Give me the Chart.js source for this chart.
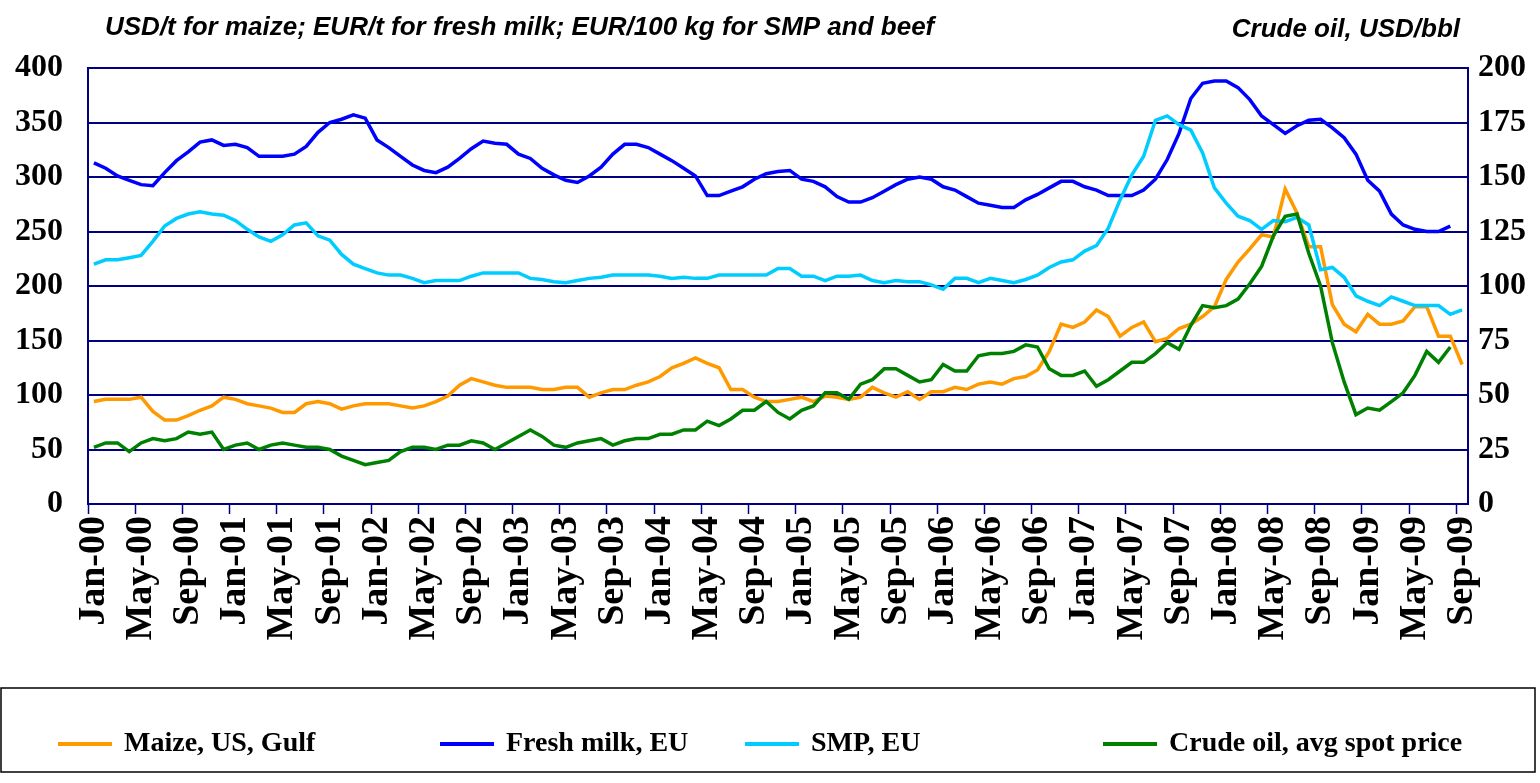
<!DOCTYPE html>
<html>
<head>
<meta charset="utf-8">
<script src="https://cdn.jsdelivr.net/npm/chart.js@4.4.1/dist/chart.umd.min.js"></script>
<style>
  html, body { margin: 0; padding: 0; background: #fff; }
  #wrap { width: 1540px; height: 783px; }
</style>
</head>
<body>
<div id="wrap"><canvas id="chart" width="1540" height="783"></canvas></div>
<script>
// months Jan-00 .. Sep-09
const MONTHS = ['Jan', 'Feb', 'Mar', 'Apr', 'May', 'Jun', 'Jul', 'Aug', 'Sep', 'Oct', 'Nov', 'Dec'];
const YEARS = ['00', '01', '02', '03', '04', '05', '06', '07', '08', '09'];
const categories = [];
YEARS.forEach(y => MONTHS.forEach(m => categories.push(m + '-' + y)));
categories.length = 117;

// USD/t
const maize = [
  94, 96, 96, 96, 98, 85, 77, 77, 81, 86, 90, 98, 96, 92, 90, 88, 84, 84, 92, 94,
  92, 87, 90, 92, 92, 92, 90, 88, 90, 94, 99, 109, 115, 112, 109, 107, 107, 107, 105,
  105, 107, 107, 98, 102, 105, 105, 109, 112, 117, 125, 129, 134, 129, 125, 105, 105, 98, 94, 94,
  96, 98, 94, 99, 98, 96, 98, 107, 102, 98, 103, 96, 103, 103, 107, 105, 110, 112, 110,
  115, 117, 123, 140, 165, 162, 167, 178, 172, 154, 162, 167, 149, 152, 161, 165, 172, 181, 206, 222,
  234, 247, 245, 289, 267, 236, 236, 183, 165, 158, 174, 165, 165, 168, 181, 181, 154, 154, 128
];
// EUR/t
const milk = [
  313, 308, 301, 297, 293, 292, 304, 315, 323, 332, 334, 329, 330, 327, 319, 319, 319, 321, 328, 341,
  350, 353, 357, 354, 334, 327, 319, 311, 306, 304, 309, 317, 326, 333, 331, 330, 321, 317, 308,
  302, 297, 295, 301, 309, 321, 330, 330, 327, 321, 315, 308, 301, 283, 283, 287, 291, 298, 303, 305,
  306, 298, 296, 291, 282, 277, 277, 281, 287, 293, 298, 300, 298, 291, 288, 282, 276, 274, 272,
  272, 279, 284, 290, 296, 296, 291, 288, 283, 283, 283, 288, 298, 316, 340, 372, 386, 388, 388, 382,
  371, 356, 348, 340, 347, 352, 353, 345, 336, 321, 297, 287, 266, 256, 252, 250, 250, 255
];
// EUR/100 kg
const smp = [
  220, 224, 224, 226, 228, 241, 255, 262, 266, 268, 266, 265, 260, 252, 245, 241, 247, 256, 258, 246,
  242, 229, 220, 216, 212, 210, 210, 207, 203, 205, 205, 205, 209, 212, 212, 212, 212, 207, 206,
  204, 203, 205, 207, 208, 210, 210, 210, 210, 209, 207, 208, 207, 207, 210, 210, 210, 210, 210, 216,
  216, 209, 209, 205, 209, 209, 210, 205, 203, 205, 204, 204, 201, 197, 207, 207, 203, 207, 205,
  203, 206, 210, 217, 222, 224, 232, 237, 253, 279, 302, 319, 352, 356, 348, 343, 322, 290, 276, 264,
  260, 252, 260, 259, 263, 256, 215, 217, 208, 191, 186, 182, 190, 186, 182, 182, 182, 174, 178
];
// USD/bbl, right axis
const crudeOil = [
  26, 28, 28, 24, 28, 30, 29, 30, 33, 32, 33, 25, 27, 28, 25, 27, 28, 27, 26, 26,
  25, 22, 20, 18, 19, 20, 24, 26, 26, 25, 27, 27, 29, 28, 25, 28, 31, 34, 31,
  27, 26, 28, 29, 30, 27, 29, 30, 30, 32, 32, 34, 34, 38, 36, 39, 43, 43, 47, 42,
  39, 43, 45, 51, 51, 48, 55, 57, 62, 62, 59, 56, 57, 64, 61, 61, 68, 69, 69,
  70, 73, 72, 62, 59, 59, 61, 54, 57, 61, 65, 65, 69, 74, 71, 82, 91, 90, 91, 94,
  101, 109, 123, 132, 133, 115, 100, 74, 56, 41, 44, 43, 47, 51, 59, 70, 65, 72
];

const leftTicks = [0, 50, 100, 150, 200, 250, 300, 350, 400];
const rightTicks = [0, 25, 50, 75, 100, 125, 150, 175, 200];
const leftTitle = 'USD/t for maize; EUR/t for fresh milk; EUR/100 kg for SMP and beef';
const rightTitle = 'Crude oil, USD/bbl';

const NAVY = '#000080';
const SERIF = "'Liberation Serif', 'Times New Roman', serif";
const SANS = "'Liberation Sans', Arial, sans-serif";

// axis headings above the plot
const headings = {
  id: 'headings',
  afterDraw(chart) {
    const ctx = chart.ctx;
    ctx.save();
    ctx.fillStyle = '#000';
    ctx.font = 'italic bold 26px ' + SANS;
    ctx.textBaseline = 'middle';
    ctx.textAlign = 'left';
    ctx.fillText(leftTitle, 105, 28);
    ctx.textAlign = 'right';
    ctx.fillText(rightTitle, 1460, 30);
    ctx.restore();
  }
};

// boxed legend under the axis labels
const boxLegend = {
  id: 'boxLegend',
  afterDraw(chart) {
    const ctx = chart.ctx;
    const xs = [58, 440, 745, 1103];
    const y = 744;
    ctx.save();
    ctx.strokeStyle = '#000';
    ctx.lineWidth = 1.5;
    ctx.strokeRect(1, 688, 1534, 84);
    ctx.font = 'bold 28px ' + SERIF;
    ctx.textBaseline = 'middle';
    ctx.textAlign = 'left';
    chart.data.datasets.forEach((ds, i) => {
      ctx.strokeStyle = ds.borderColor;
      ctx.lineWidth = 4;
      ctx.beginPath();
      ctx.moveTo(xs[i], y);
      ctx.lineTo(xs[i] + 54, y);
      ctx.stroke();
      ctx.fillStyle = '#000';
      ctx.fillText(ds.label, xs[i] + 66, y);
    });
    ctx.restore();
  }
};

function series(label, data, color, axis, order) {
  return {
    label, data, yAxisID: axis, order,
    borderColor: color, backgroundColor: color,
    borderWidth: 3.5, pointRadius: 0, tension: 0, fill: false
  };
}

new Chart(document.getElementById('chart'), {
  type: 'line',
  data: {
    labels: categories,
    datasets: [
      series('Maize, US, Gulf', maize, '#FF9900', 'y', 4),
      series('Fresh milk, EU', milk, '#0000FF', 'y', 3),
      series('SMP, EU', smp, '#00CCFF', 'y', 2),
      series('Crude oil, avg spot price', crudeOil, '#008000', 'y1', 1)
    ]
  },
  options: {
    responsive: false,
    animation: false,
    layout: { padding: { top: 68, left: 0, right: 0, bottom: 0 } },
    plugins: { legend: { display: false }, tooltip: { enabled: false } },
    scales: {
      x: {
        offset: true,
        grid: {
          offset: true,
          drawOnChartArea: false,
          drawTicks: true,
          tickLength: 10,
          tickWidth: 1.5,
          tickColor: ctx => (ctx.index % 4 === 0 ? NAVY : 'rgba(0,0,0,0)')
        },
        border: { display: true, color: NAVY, width: 2 },
        ticks: {
          autoSkip: false,
          minRotation: 90,
          maxRotation: 90,
          padding: 2,
          color: '#000',
          font: { family: SERIF, weight: 'bold', size: 38 },
          callback: (v, i) => (i % 4 === 0 ? categories[i] : '')
        },
        afterFit: s => { s.height = 279; }
      },
      y: {
        position: 'left',
        min: leftTicks[0],
        max: leftTicks[leftTicks.length - 1],
        afterBuildTicks: s => { s.ticks = leftTicks.map(v => ({ value: v })); },
        grid: { color: NAVY, lineWidth: 2, drawTicks: false },
        border: { display: true, color: NAVY, width: 2 },
        ticks: { padding: 25, color: '#000', font: { family: SERIF, weight: 'bold', size: 32 } },
        afterFit: s => { s.width = 88; }
      },
      y1: {
        position: 'right',
        min: rightTicks[0],
        max: rightTicks[rightTicks.length - 1],
        afterBuildTicks: s => { s.ticks = rightTicks.map(v => ({ value: v })); },
        grid: { drawOnChartArea: false, drawTicks: false },
        border: { display: true, color: NAVY, width: 2 },
        ticks: { padding: 10, color: '#000', font: { family: SERIF, weight: 'bold', size: 32 } },
        afterFit: s => { s.width = 72; }
      }
    }
  },
  plugins: [headings, boxLegend]
});
</script>
</body>
</html>
